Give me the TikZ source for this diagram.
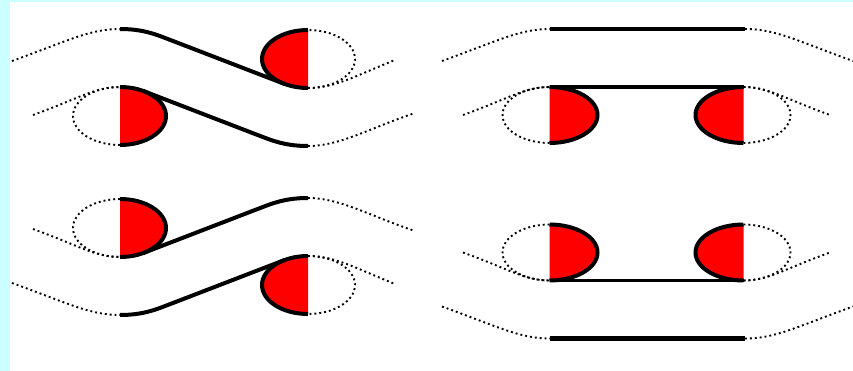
\documentclass[tikz,border=0pt]{standalone}
\definecolor{bgcyan}{RGB}{204,255,255}
\definecolor{discred}{RGB}{255,0,0}
\tikzset{
  dotline/.style={line width=1.9pt, dash pattern=on 1.9pt off 3pt},
  strand/.style={line width=4pt},
  rim/.style={line width=4pt},
  disc/.style={fill=discred},
}
\newcommand{\leftpanel}{%
  % dotted parts
  \draw[dotline] (12,61) .. controls (70,40) and (90,29) .. (120,29);
  \draw[dotline] (308,88) .. controls (335,88) and (355,76) .. (395,60);
  \draw[dotline] (33,115) .. controls (80,98) and (95,87) .. (120,87);
  \draw[dotline] (308,146) .. controls (340,146) and (370,128) .. (415,113);
  \draw[dotline] (308,88) arc[start angle=90, end angle=-90, x radius=47, y radius=29];
  \draw[dotline] (120,145) arc[start angle=90, end angle=270, x radius=47, y radius=29];
  % red half discs
  \fill[disc] (308,30) arc[start angle=270, end angle=90, x radius=46, y radius=29] -- cycle;
  \fill[disc] (120,87) arc[start angle=-90, end angle=90, x radius=46, y radius=29] -- cycle;
  \draw[rim] (308,30) arc[start angle=270, end angle=90, x radius=46, y radius=29];
  \draw[rim] (120,87) arc[start angle=-90, end angle=90, x radius=46, y radius=29];
  % strands
  \draw[strand] (120,29) .. controls (145,29) and (158,35.4) .. (173,41) -- (284.4,83.9);
  \draw[strand] (143.6,91.1) -- (255,134) .. controls (270,139.6) and (283,146) .. (308,146);
}
\newcommand{\rightpanel}{%
  \draw[dotline] (442,61) .. controls (500,40) and (520,29) .. (550,29);
  \draw[dotline] (745,29) .. controls (775,29) and (795,40) .. (853,61);
  \draw[dotline] (463,115) .. controls (510,98) and (525,87) .. (549.5,87);
  \draw[dotline] (743.5,87) .. controls (768,87) and (783,98) .. (830,115);
  \draw[dotline] (549.5,143) arc[start angle=90, end angle=270, x radius=47, y radius=28];
  \draw[dotline] (743.5,143) arc[start angle=90, end angle=-90, x radius=47, y radius=28];
  \fill[disc] (549.5,87) arc[start angle=-90, end angle=90, x radius=48, y radius=28] -- cycle;
  \fill[disc] (743.5,87) arc[start angle=270, end angle=90, x radius=48, y radius=28] -- cycle;
  \draw[rim] (549.5,87) arc[start angle=-90, end angle=90, x radius=48, y radius=28];
  \draw[rim] (743.5,87) arc[start angle=270, end angle=90, x radius=48, y radius=28];
  \draw[line width=4.5pt] (550,29) -- (745,29);
  \draw[line width=3.5pt] (549.5,87) -- (743.5,87);
}
\begin{document}
\begin{tikzpicture}[x=1pt,y=-1pt]
  \useasboundingbox (0,0) rectangle (853,371);
  \fill[bgcyan] (0,0) rectangle (853,371);
  \fill[white] (10,2) rectangle (853,371);
  \leftpanel
  \rightpanel
  \begin{scope}[shift={(0,344)}, yscale=-1]
    \leftpanel
  \end{scope}
  \begin{scope}[shift={(0,367.5)}, yscale=-1]
    \rightpanel
  \end{scope}
\end{tikzpicture}
\end{document}
